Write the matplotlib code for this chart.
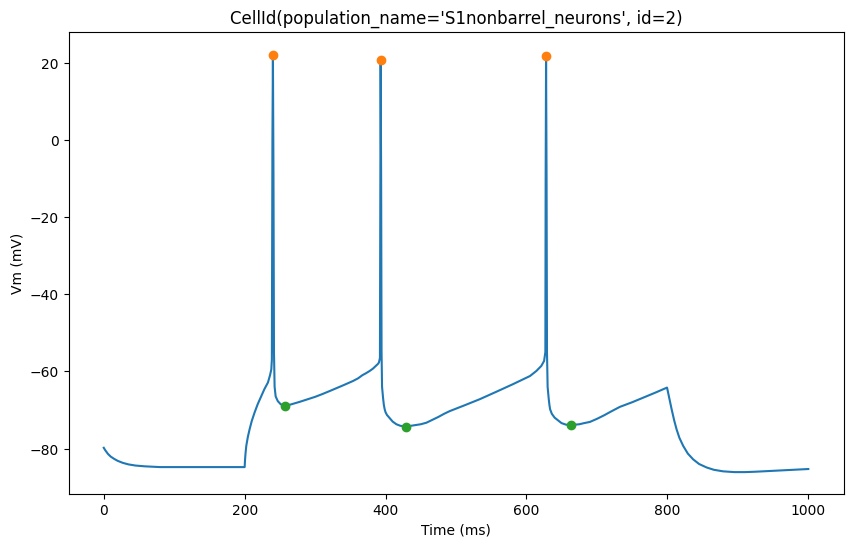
import matplotlib
matplotlib.use("Agg")
import matplotlib.pyplot as plt

# membrane potential trace
time_ms = [0, 2, 4, 6, 10, 15, 20, 27, 35, 45, 58, 80, 120, 160, 199.5,
           200, 200.5, 201.2, 202.3, 204.5, 207, 210, 214, 218.5, 223.6, 228, 233, 236, 237.8,
           238.6, 239.4, 240.1, 240.9, 241.6, 242.5, 244, 247, 251, 256.7,
           265, 278, 290, 300, 310, 320.6, 340, 353.7, 361, 367, 372, 377.4, 382, 386, 389, 390.6, 392,
           392.4, 393.0, 393.7, 394.3, 395, 396.5, 397.5, 398.7, 400, 402, 405.8, 410,
           415.3, 421, 429, 440, 450, 458, 466, 475, 483, 491, 512, 533.8, 557, 581, 605,
           614, 621, 625, 626.8,
           627.2, 627.8, 628.5, 629.1, 630, 631.5, 632.5, 633.5, 636, 640, 649.7,
           656, 663.4, 675, 682, 690, 700, 710, 720, 732.5, 750, 766, 783, 799.5,
           801, 803, 806, 809.5, 813, 817, 822.4, 829, 836.6, 845, 855.7, 866, 879, 895, 910, 925, 946, 970, 1000]
vm_mv = [-79.8, -80.4, -80.9, -81.4, -82.1, -82.7, -83.2, -83.7, -84.1, -84.4, -84.6, -84.8, -84.8, -84.8, -84.8,
         -84.8, -83.0, -81.3, -79.3, -77.0, -75.0, -72.9, -70.7, -68.5, -66.4, -64.6, -62.9, -61.0, -59.5,
         -57.0, 0.0, 21.9, -10.0, -55.0, -64.0, -66.5, -67.7, -68.5, -68.9,
         -68.6, -67.9, -67.2, -66.6, -65.9, -65.1, -63.6, -62.5, -61.8, -61.0, -60.5, -59.9, -59.3, -58.6, -58.1, -57.7, -56.5,
         -20.0, 20.8, -10.0, -55.0, -64.0, -67.0, -68.6, -69.8, -70.6, -71.3, -72.1, -73.0,
         -73.7, -74.1, -74.3, -74.0, -73.7, -73.3, -72.6, -71.8, -71.0, -70.3, -68.8, -67.2, -65.3, -63.3, -61.2,
         -59.9, -58.6, -57.3, -55.0,
         -10.0, 21.6, -10.0, -55.0, -64.0, -67.0, -68.6, -69.8, -71.0, -72.0, -73.4,
         -73.8, -73.9, -73.7, -73.4, -73.1, -72.3, -71.4, -70.4, -69.2, -68.0, -66.8, -65.5, -64.2,
         -65.5, -67.3, -69.8, -72.6, -75.0, -77.2, -79.3, -81.3, -82.8, -84.0, -84.9, -85.5, -85.9, -86.1, -86.1, -86.0, -85.8, -85.6, -85.3]

# detected spike peaks and after-hyperpolarisation minima
peak_t = [240.1, 393.0, 627.8]
peak_v = [21.9, 20.8, 21.6]
trough_t = [256.7, 429.0, 663.4]
trough_v = [-68.9, -74.3, -73.9]

fig, ax = plt.subplots(figsize=(10, 6))
ax.plot(time_ms, vm_mv)
ax.plot(peak_t, peak_v, 'o')
ax.plot(trough_t, trough_v, 'o')
ax.set_ylim(-91.7, 28.0)

ax.set_title("CellId(population_name='S1nonbarrel_neurons', id=2)")
ax.set_xlabel("Time (ms)")
ax.set_ylabel("Vm (mV)")

fig.savefig("out.png", dpi=100, bbox_inches="tight")
